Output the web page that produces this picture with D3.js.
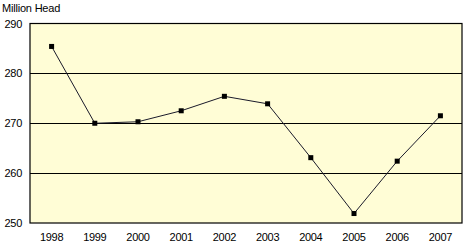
<!DOCTYPE html>
<html><head><meta charset="utf-8">
<script src="https://cdn.jsdelivr.net/npm/d3@7"></script>
<style>body{margin:0;background:#fff}svg{display:block}</style>
</head><body>
<script>
const years = ["1998","1999","2000","2001","2002","2003","2004","2005","2006","2007"];
const values = [285.4, 270.0, 270.3, 272.5, 275.4, 273.9, 263.1, 251.9, 262.4, 271.5];
const yTicks = [250, 260, 270, 280, 290];
const unitLabel = "Million Head";

const W = 464, H = 243;
const m = {left: 30, right: 2, top: 23.5, bottom: 20};
const svg = d3.select("body").append("svg").attr("width", W).attr("height", H);
const x = d3.scaleBand().domain(years).range([m.left, W - m.right]);
const y = d3.scaleLinear().domain([250, 290]).range([H - m.bottom, m.top]);

svg.append("rect").attr("x", m.left).attr("y", m.top)
  .attr("width", W - m.right - m.left).attr("height", H - m.bottom - m.top)
  .attr("fill", "#FFFDD6").attr("stroke", "#000").attr("stroke-width", 1.2);

svg.append("g").selectAll("line").data(yTicks.slice(1, -1)).join("line")
  .attr("x1", m.left).attr("x2", W - m.right)
  .attr("y1", d => Math.round(y(d)) + 0.5).attr("y2", d => Math.round(y(d)) + 0.5)
  .attr("stroke", "#000").attr("stroke-width", 1);

const yAxis = svg.append("g").attr("transform", `translate(${m.left},0)`)
  .call(d3.axisLeft(y).tickValues(yTicks).tickSize(0).tickPadding(8));
yAxis.select(".domain").remove();
const xAxis = svg.append("g").attr("transform", `translate(0,${H - m.bottom})`)
  .call(d3.axisBottom(x).tickSize(0).tickPadding(10));
xAxis.select(".domain").remove();
svg.selectAll(".tick text").attr("font-family", "Liberation Sans, Arial, sans-serif")
  .attr("font-size", 11).attr("fill", "#000").attr("letter-spacing", -0.3);

svg.append("text").attr("x", 2).attr("y", 11.5).text(unitLabel)
  .attr("font-family", "Liberation Sans, Arial, sans-serif").attr("font-size", 11)
  .attr("letter-spacing", -0.2);

const line = d3.line().x((d, i) => x(years[i]) + x.bandwidth() / 2).y(d => y(d));
svg.append("path").datum(values).attr("d", line).attr("fill", "none")
  .attr("stroke", "#1a1a2a").attr("stroke-width", 1);

svg.append("g").selectAll("rect").data(values).join("rect")
  .attr("x", (d, i) => x(years[i]) + x.bandwidth() / 2 - 2.5)
  .attr("y", d => y(d) - 2.5).attr("width", 5).attr("height", 5).attr("fill", "#000");
</script>
</body></html>
